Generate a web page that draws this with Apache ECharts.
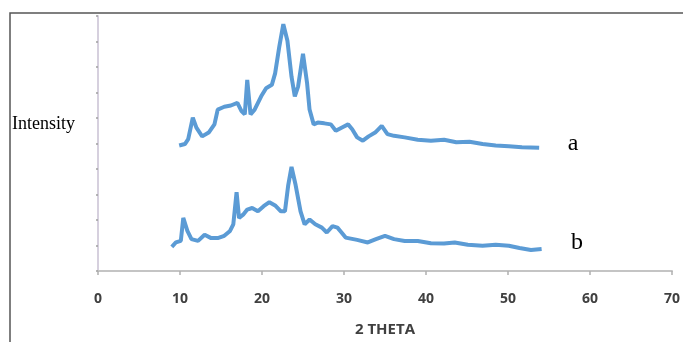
<!DOCTYPE html>
<html>
<head>
<meta charset="utf-8">
<script src="https://cdn.jsdelivr.net/npm/echarts@6/dist/echarts.min.js"></script>
<style>
  html, body { margin: 0; padding: 0; background: #fff; }
  #chart { width: 683px; height: 342px; }
</style>
</head>
<body>
<div id="chart"></div>
<script>
// curve a (upper pattern)
const thetaA = [9.9, 10.6, 11.0, 11.56, 12.0, 12.7, 13.5, 14.2, 14.6, 15.4, 16.2, 17.0, 17.5, 17.9, 18.2, 18.6, 19.1, 19.9, 20.5, 21.2, 21.6, 22.1, 22.6, 23.1, 23.6, 24.0, 24.4, 25.0, 25.5, 25.8, 26.3, 26.8, 27.6, 28.4, 29.0, 29.7, 30.5, 31.0, 31.6, 32.3, 33.0, 33.8, 34.6, 35.3, 36.1, 37.4, 39.0, 40.6, 42.2, 43.7, 45.3, 46.9, 48.5, 50.1, 51.7, 53.8];
const intensityA = [4.92, 4.98, 5.17, 6.01, 5.62, 5.28, 5.43, 5.75, 6.33, 6.44, 6.49, 6.59, 6.27, 6.14, 7.49, 6.14, 6.33, 6.85, 7.17, 7.30, 7.75, 8.78, 9.68, 9.03, 7.62, 6.85, 7.23, 8.52, 7.36, 6.33, 5.75, 5.82, 5.79, 5.75, 5.50, 5.62, 5.75, 5.56, 5.24, 5.11, 5.28, 5.43, 5.69, 5.37, 5.30, 5.24, 5.15, 5.11, 5.15, 5.05, 5.07, 4.98, 4.92, 4.89, 4.85, 4.83];

// curve b (lower pattern)
const thetaB = [9.0, 9.5, 10.1, 10.4, 10.9, 11.4, 12.2, 13.0, 13.8, 14.6, 15.4, 16.1, 16.5, 16.9, 17.2, 17.7, 18.2, 18.8, 19.5, 20.2, 20.9, 21.6, 22.3, 22.8, 23.2, 23.6, 24.1, 24.7, 25.2, 25.8, 26.5, 27.3, 27.9, 28.6, 29.2, 29.7, 30.2, 31.6, 32.9, 33.9, 35.0, 36.1, 37.4, 39.0, 40.6, 42.2, 43.5, 45.1, 46.9, 48.5, 50.1, 51.4, 52.8, 54.1];
const intensityB = [0.95, 1.12, 1.18, 2.08, 1.57, 1.25, 1.18, 1.42, 1.29, 1.29, 1.38, 1.57, 1.83, 3.09, 2.08, 2.21, 2.41, 2.47, 2.34, 2.54, 2.70, 2.57, 2.34, 2.34, 3.37, 4.08, 3.37, 2.34, 1.83, 2.02, 1.83, 1.70, 1.51, 1.76, 1.70, 1.51, 1.31, 1.22, 1.12, 1.25, 1.38, 1.25, 1.18, 1.18, 1.09, 1.08, 1.12, 1.03, 0.99, 1.03, 0.99, 0.90, 0.82, 0.86];

const xTicks = [0, 10, 20, 30, 40, 50, 60, 70];

const lineColor = '#5b9bd5';

const myChart = echarts.init(document.getElementById('chart'));

const option = {
  animation: false,
  grid: { left: 98, right: 9, top: 16, bottom: 68 },
  xAxis: {
    type: 'value',
    min: xTicks[0],
    max: xTicks[xTicks.length - 1],
    interval: 10,
    name: '2 THETA',
    nameLocation: 'middle',
    nameGap: 51,
    nameTextStyle: { color: '#404040', fontFamily: 'Open Sans', fontWeight: 'bold', fontSize: 15 },
    axisLine: { lineStyle: { color: '#c4c4c4', width: 2 } },
    axisTick: { length: 4, lineStyle: { color: '#b0b0b0', width: 1.5 } },
    axisLabel: { margin: 21, color: '#404040', fontFamily: 'Open Sans', fontWeight: 'bold', fontSize: 14 },
    splitLine: { show: false }
  },
  yAxis: {
    type: 'value',
    min: 0,
    max: 10,
    interval: 1,
    axisLine: { show: true, lineStyle: { color: '#d6d0de', width: 2 } },
    axisTick: { show: true, length: 2, lineStyle: { color: '#a0a0a0', width: 1.5 } },
    axisLabel: { show: false },
    splitLine: { show: false }
  },
  series: [
    {
      type: 'line',
      data: thetaA.map((t, i) => [t, intensityA[i]]),
      showSymbol: false,
      lineStyle: { color: lineColor, width: 4 }
    },
    {
      type: 'line',
      data: thetaB.map((t, i) => [t, intensityB[i]]),
      showSymbol: false,
      lineStyle: { color: lineColor, width: 4 }
    }
  ],
  graphic: [
    // frame round the picture
    { type: 'polyline', shape: { points: [[10, 342], [10, 13], [683, 13]] }, style: { stroke: '#555', lineWidth: 1.5, fill: null } },
    { type: 'text', x: 12, y: 124, style: { text: 'Intensity', fontFamily: 'Liberation Serif', fontSize: 18, fill: '#000', textVerticalAlign: 'middle' } },
    { type: 'text', x: 573, y: 144, style: { text: 'a', fontFamily: 'Liberation Serif', fontSize: 24, fill: '#000', textAlign: 'center', textVerticalAlign: 'middle' } },
    { type: 'text', x: 577, y: 243, style: { text: 'b', fontFamily: 'Liberation Serif', fontSize: 24, fill: '#000', textAlign: 'center', textVerticalAlign: 'middle' } }
  ]
};

myChart.setOption(option);
</script>
</body>
</html>
